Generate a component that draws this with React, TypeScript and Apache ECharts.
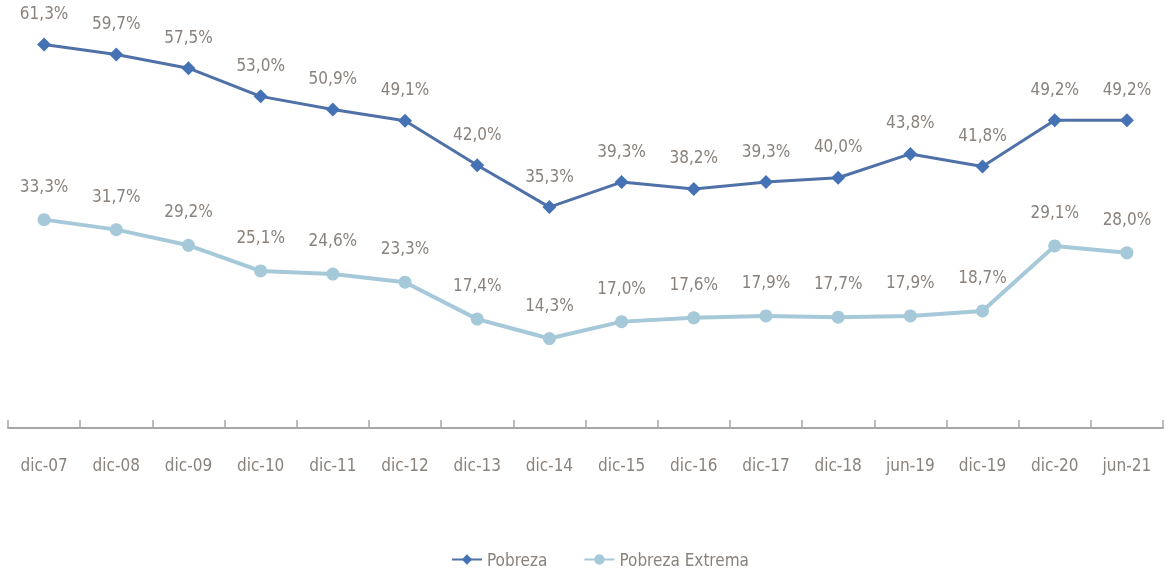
import React, { useEffect, useRef } from "react";
import * as echarts from "echarts";

const categories = ["dic-07","dic-08","dic-09","dic-10","dic-11","dic-12","dic-13","dic-14","dic-15","dic-16","dic-17","dic-18","jun-19","dic-19","dic-20","jun-21"];
const pobreza = [61.3,59.7,57.5,53.0,50.9,49.1,42.0,35.3,39.3,38.2,39.3,40.0,43.8,41.8,49.2,49.2];
const pobrezaExtrema = [33.3,31.7,29.2,25.1,24.6,23.3,17.4,14.3,17.0,17.6,17.9,17.7,17.9,18.7,29.1,28.0];

const FONT = "'Liberation Sans Narrow', 'DejaVu Sans Condensed', 'Open Sans', sans-serif";
const TXT = "#8a827c";

export default function App() {
  const ref = useRef<HTMLDivElement>(null);
  useEffect(() => {
    const chart = echarts.init(ref.current!, null, { renderer: "svg" });
    const fmt = (p: any) => p.value.toFixed(1).replace(".", ",") + "%";
    chart.setOption({
      animation: false,
      textStyle: { fontFamily: FONT },
      grid: { left: 8, right: 5, top: 0, bottom: 150 },
      legend: {
        bottom: 5,
        left: 446,
        itemGap: 36,
        itemWidth: 30,
        itemHeight: 13,
        textStyle: { fontFamily: FONT, fontSize: 17, color: TXT },
        data: ["Pobreza", "Pobreza Extrema"],
      },
      xAxis: {
        type: "category",
        data: categories,
        boundaryGap: true,
        axisLine: { show: true, lineStyle: { color: "#a6a6a6", width: 2 } },
        axisTick: { show: true, inside: true, length: 8, interval: 0, lineStyle: { color: "#a6a6a6", width: 1.5 } },
        axisLabel: { fontFamily: FONT, fontSize: 17, color: TXT, margin: 28 },
      },
      yAxis: { type: "value", min: 0, max: 68.4, show: false },
      series: [
        {
          name: "Pobreza",
          type: "line",
          data: pobreza,
          symbol: "diamond",
          symbolSize: 14,
          lineStyle: { color: "#4f71a8", width: 3 },
          itemStyle: { color: "#4472b4" },
          label: { show: true, position: "top", distance: 16, formatter: fmt, fontFamily: FONT, fontSize: 17, color: TXT },
        },
        {
          name: "Pobreza Extrema",
          type: "line",
          data: pobrezaExtrema,
          symbol: "circle",
          symbolSize: 13,
          lineStyle: { color: "#a6c9d9", width: 4 },
          itemStyle: { color: "#a6c9d9" },
          label: { show: true, position: "top", distance: 19, formatter: fmt, fontFamily: FONT, fontSize: 17, color: TXT },
        },
      ],
    });
    return () => chart.dispose();
  }, []);
  return <div ref={ref} style={{ position: "fixed", left: 0, top: 0, width: 1168, height: 578 }} />;
}
